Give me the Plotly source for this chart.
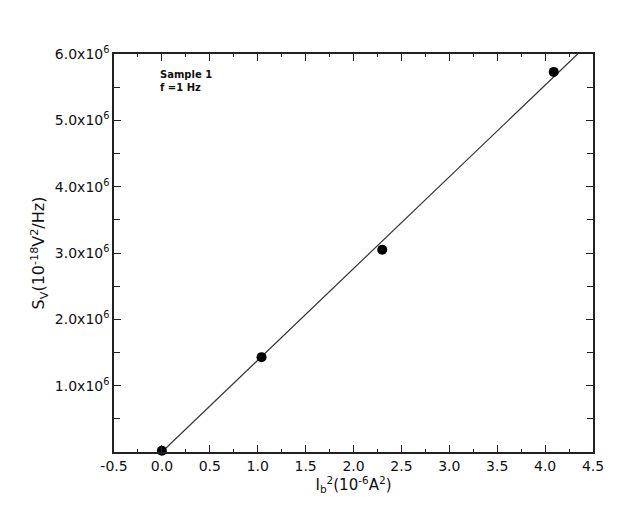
import numpy as np
import plotly.graph_objects as go

# Data
ib2 = [0.0, 1.04, 2.30, 4.09]          # I_b^2 (10^-6 A^2)
sv = [0.02e6, 1.43e6, 3.05e6, 5.73e6]  # S_V (10^-18 V^2/Hz)

x_tick_vals = [-0.5, 0.0, 0.5, 1.0, 1.5, 2.0, 2.5, 3.0, 3.5, 4.0, 4.5]
x_tick_text = ["-0.5", "0.0", "0.5", "1.0", "1.5", "2.0", "2.5", "3.0", "3.5", "4.0", "4.5"]
y_tick_vals = [1e6, 2e6, 3e6, 4e6, 5e6, 6e6]
y_tick_text = ["1.0x10<sup>6</sup>", "2.0x10<sup>6</sup>", "3.0x10<sup>6</sup>",
               "4.0x10<sup>6</sup>", "5.0x10<sup>6</sup>", "6.0x10<sup>6</sup>"]

x_range = [-0.5, 4.5]
y_range = [0, 6e6]

# linear least-squares fit through origin
xa = np.array(ib2)
ya = np.array(sv)
slope = float((xa * ya).sum() / (xa * xa).sum())
fit_x = np.array([0.0, y_range[1] / slope])
fit_y = slope * fit_x

font_family = "DejaVu Sans"

fig = go.Figure()
fig.add_trace(go.Scatter(x=fit_x, y=fit_y, mode="lines",
                         line=dict(color="#333333", width=1.2),
                         showlegend=False, cliponaxis=True))
fig.add_trace(go.Scatter(x=ib2, y=sv, mode="markers",
                         marker=dict(color="black", size=10),
                         showlegend=False, cliponaxis=False))

fig.add_annotation(x=-0.04, y=5.8e6, xref="x", yref="y", xanchor="left", yanchor="top",
                   text="<b>Sample 1<br>f =1 Hz</b>", showarrow=False, align="left",
                   font=dict(family=font_family, size=10, color="#111111"))

axis_common = dict(showgrid=False, zeroline=False, showline=True, linecolor="#222222",
                   linewidth=1.5, mirror="ticks", ticks="inside", tickcolor="#222222",
                   tickwidth=1.2)

fig.update_xaxes(range=x_range, tickvals=x_tick_vals, ticktext=x_tick_text, ticklen=7,
                 minor=dict(dtick=0.25, tick0=0, ticks="inside", ticklen=3, tickcolor="#222222"),
                 title=dict(text="I<sub>b</sub><sup>2</sup>(10<sup>-6</sup>A<sup>2</sup>)",
                            font=dict(family=font_family, size=15, color="#111111"), standoff=4),
                 tickfont=dict(family=font_family, size=14, color="#111111"),
                 **axis_common)
fig.update_yaxes(range=y_range, tickvals=y_tick_vals, ticktext=y_tick_text, ticklen=7,
                 minor=dict(dtick=0.5e6, tick0=0, ticks="inside", ticklen=6, tickcolor="#222222"),
                 title=dict(text="S<sub>V</sub>(10<sup>-18</sup>V<sup>2</sup>/Hz)",
                            font=dict(family=font_family, size=16, color="#111111"), standoff=6),
                 tickfont=dict(family=font_family, size=14, color="#111111"),
                 **axis_common)

fig.update_layout(width=629, height=511, plot_bgcolor="white", paper_bgcolor="white",
                  margin=dict(l=106, r=44, t=46, b=67))

fig.write_html("out.html")
